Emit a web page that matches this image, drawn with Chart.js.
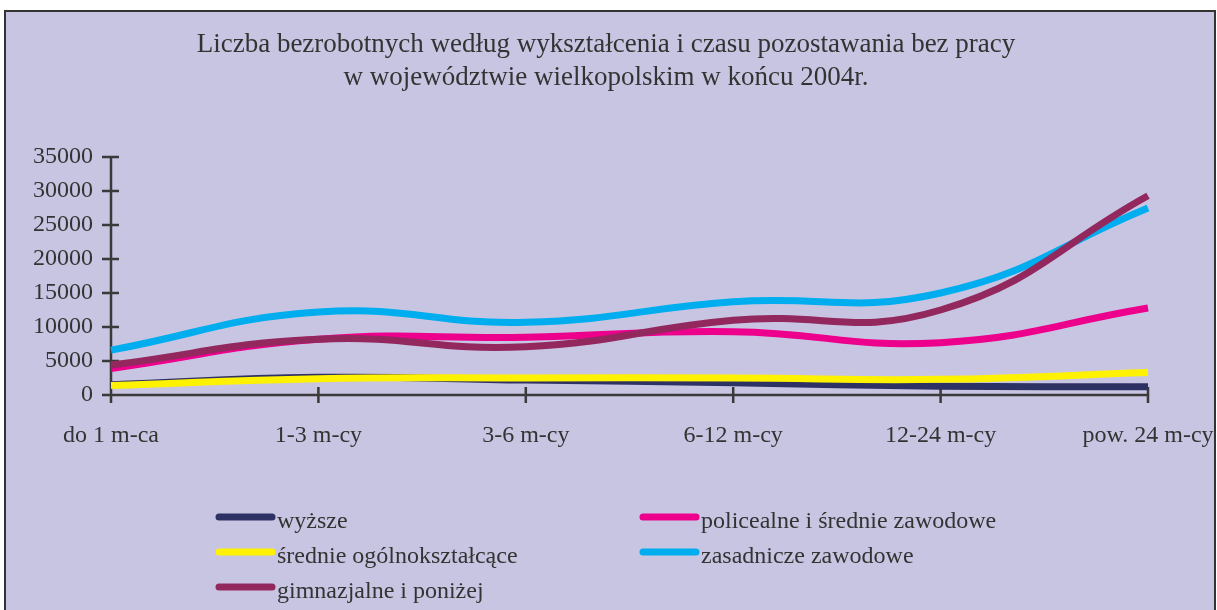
<!DOCTYPE html>
<html>
<head>
<meta charset="utf-8">
<script src="https://cdn.jsdelivr.net/npm/chart.js@4/dist/chart.umd.min.js"></script>
<style>
html,body{margin:0;padding:0;background:#fff;}
#wrap{position:absolute;left:0;top:0;width:1217px;height:610px;}
</style>
</head>
<body>
<div id="wrap"><canvas id="c" width="1217" height="610"></canvas></div>
<script>
const categories = ["do 1 m-ca", "1-3 m-cy", "3-6 m-cy", "6-12 m-cy", "12-24 m-cy", "pow. 24 m-cy"];
const seriesNames = ["wyższe", "policealne i średnie zawodowe", "średnie ogólnokształcące", "zasadnicze zawodowe", "gimnazjalne i poniżej"];
const wyzsze      = [1500, 2600, 2200, 1800, 1300, 1200];
const policealne  = [3900, 8200, 8500, 9300, 7700, 12800];
const srednieOgol = [1400, 2400, 2500, 2500, 2300, 3300];
const zasadnicze  = [6600, 12200, 10700, 13700, 15000, 27500];
const gimnazjalne = [4400, 8200, 7100, 11000, 12500, 29300];
const seriesColors = ["#2E3163", "#EC008C", "#FFF200", "#00AEEF", "#93285F"];
const yTicks = [0, 5000, 10000, 15000, 20000, 25000, 30000, 35000];
const titleLines = ["Liczba bezrobotnych według wykształcenia i czasu pozostawania bez pracy", "w województwie wielkopolskim w końcu 2004r."];

const seriesData = [wyzsze, policealne, srednieOgol, zasadnicze, gimnazjalne];
const FONT = "'Liberation Serif','Times New Roman',serif";
const AXIS = "#3a3a3a";

const frame = {
  id: 'frame',
  beforeDraw(chart) {
    const ctx = chart.ctx;
    ctx.save();
    ctx.fillStyle = '#fff';
    ctx.fillRect(0, 0, chart.width, chart.height);
    ctx.fillStyle = '#C8C5E2';
    ctx.fillRect(4, 10, 1212, 610);
    ctx.strokeStyle = '#333';
    ctx.lineWidth = 2;
    ctx.strokeRect(5, 11, 1210, 620);
    ctx.fillStyle = '#333';
    ctx.font = "27px " + FONT;
    ctx.textAlign = 'center';
    ctx.textBaseline = 'middle';
    ctx.fillText(titleLines[0], 606, 45);
    ctx.fillText(titleLines[1], 606, 78);
    ctx.restore();
  },
  beforeDatasetsDraw(chart) {
    const ctx = chart.ctx;
    const x = chart.scales.x, y = chart.scales.y;
    const a = chart.chartArea;
    ctx.save();
    ctx.strokeStyle = AXIS;
    ctx.lineWidth = 2.5;
    ctx.beginPath();
    ctx.moveTo(a.left, a.top);
    ctx.lineTo(a.left, a.bottom);
    ctx.lineTo(a.right, a.bottom);
    for (const t of yTicks) {
      const py = y.getPixelForValue(t);
      ctx.moveTo(a.left - 9, py);
      ctx.lineTo(a.left + 8, py);
    }
    for (let i = 0; i < categories.length; i++) {
      const px = x.getPixelForValue(i);
      ctx.moveTo(px, a.bottom - 8);
      ctx.lineTo(px, a.bottom + 8);
    }
    ctx.stroke();
    ctx.restore();
  },
  afterDraw(chart) {
    const ctx = chart.ctx;
    const pos = [[216, 517], [640, 517], [216, 552], [640, 552], [216, 587]];
    ctx.save();
    ctx.font = "24px " + FONT;
    ctx.textBaseline = 'middle';
    ctx.textAlign = 'left';
    chart.data.datasets.forEach((ds, i) => {
      const [lx, ly] = pos[i];
      ctx.strokeStyle = ds.borderColor;
      ctx.lineWidth = 7;
      ctx.lineCap = 'round';
      ctx.beginPath();
      ctx.moveTo(lx + 3, ly);
      ctx.lineTo(lx + 56, ly);
      ctx.stroke();
      ctx.fillStyle = '#333';
      ctx.fillText(ds.label, lx + 61, ly + 5);
    });
    ctx.restore();
  }
};

new Chart(document.getElementById('c'), {
  type: 'line',
  data: {
    labels: categories,
    datasets: seriesNames.map((name, i) => ({
      label: name,
      data: seriesData[i],
      borderColor: seriesColors[i],
      backgroundColor: seriesColors[i],
      borderWidth: 7,
      pointRadius: 0,
      tension: 0.45,
      fill: false,
      order: seriesNames.length - i
    }))
  },
  options: {
    responsive: false,
    animation: false,
    events: [],
    layout: { padding: { left: 0, top: 157, right: 69, bottom: 145 } },
    plugins: { legend: { display: false }, title: { display: false }, tooltip: { enabled: false } },
    scales: {
      x: {
        type: 'category',
        offset: false,
        grid: { display: false, drawTicks: false },
        border: { display: false },
        ticks: { color: '#333', font: { family: FONT, size: 24 }, padding: 26, maxRotation: 0, autoSkip: false },
        afterFit(s) { s.height = 70; s.paddingLeft = 0; s.paddingRight = 0; }
      },
      y: {
        min: 0, max: 35000,
        grid: { display: false, drawTicks: false },
        border: { display: false },
        afterBuildTicks(s) { s.ticks = yTicks.map(v => ({ value: v })); },
        ticks: { color: '#333', font: { family: FONT, size: 24 }, padding: 18, callback: v => String(v) },
        afterFit(s) { s.width = 111; s.paddingTop = 0; s.paddingBottom = 0; }
      }
    }
  },
  plugins: [frame]
});
</script>
</body>
</html>
